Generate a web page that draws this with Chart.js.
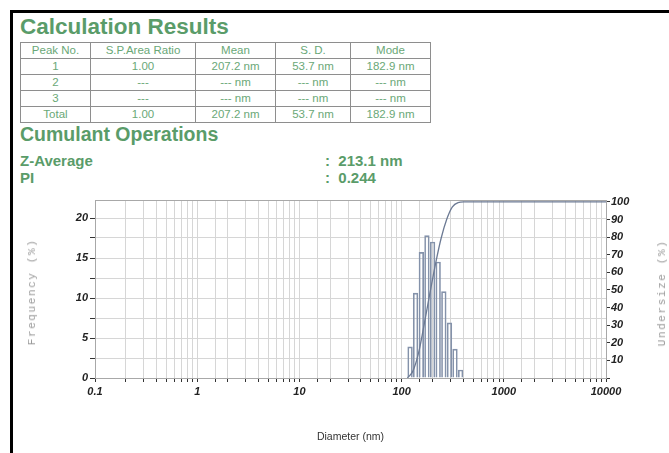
<!DOCTYPE html>
<html>
<head>
<meta charset="utf-8">
<script src="https://cdn.jsdelivr.net/npm/chart.js@4.4.1/dist/chart.umd.min.js"></script>
<style>
    body { margin: 0; width: 669px; height: 453px; overflow: hidden; position: relative; background: #fff;
           font-family: 'Liberation Sans', Arial, sans-serif; }
    .frame-top { position: absolute; left: 10px; top: 10px; right: 0; height: 3px; background: #000; }
    .frame-left { position: absolute; left: 10px; top: 10px; bottom: 0; width: 3px; background: #000; }
    .green { color: #5a9c69; font-weight: bold; position: absolute; left: 20px; line-height: 1; white-space: nowrap; }
    #title { top: 16px; font-size: 22.5px; }
    #cumulant { top: 125px; font-size: 19.5px; }
    .stat { font-size: 15px; }
    .stat span { position: absolute; left: 305px; }
    table { position: absolute; left: 20px; top: 42px; border-collapse: collapse; color: #6aa877;
            font-size: 11.5px; table-layout: fixed; }
    td { border: 1px solid #8e8e8e; text-align: center; padding: 0; height: 15px; line-height: 13px; }
    .axis-title { position: absolute; color: #9a9a9a; font-family: 'Liberation Mono', monospace; font-size: 11px;
                  letter-spacing: 1.6px; white-space: nowrap; transform: translate(-50%, -50%) rotate(-90deg); }
    #chart-box { position: absolute; left: 0; top: 190px; width: 669px; height: 263px; }
</style>
</head>
<body>
<div class="frame-top"></div>
<div class="frame-left"></div>
<div id="title" class="green">Calculation Results</div>
<table>
    <colgroup><col style="width:70px"><col style="width:105px"><col style="width:80px"><col style="width:75px"><col style="width:80px"></colgroup>
    <tr><td>Peak No.</td><td>S.P.Area Ratio</td><td>Mean</td><td>S. D.</td><td>Mode</td></tr>
    <tr><td>1</td><td>1.00</td><td>207.2 nm</td><td>53.7 nm</td><td>182.9 nm</td></tr>
    <tr><td>2</td><td>---</td><td>--- nm</td><td>--- nm</td><td>--- nm</td></tr>
    <tr><td>3</td><td>---</td><td>--- nm</td><td>--- nm</td><td>--- nm</td></tr>
    <tr><td>Total</td><td>1.00</td><td>207.2 nm</td><td>53.7 nm</td><td>182.9 nm</td></tr>
</table>
<div id="cumulant" class="green">Cumulant Operations</div>
<div class="green stat" style="top:153px">Z-Average<span>:&nbsp; 213.1 nm</span></div>
<div class="green stat" style="top:170px">PI<span>:&nbsp; 0.244</span></div>

<div id="chart-box"><canvas id="psdChart"></canvas></div>
<div class="axis-title" style="left:32px; top:292px">Frequency (%)</div>
<div class="axis-title" style="left:662px; top:293px">Undersize (%)</div>

<script>
// histogram bins (nm) and frequency (%)
const binCenters = [121, 137, 156, 177, 201, 228, 259, 294, 333, 378];
const frequency = [3.9, 10.6, 15.7, 17.8, 17.0, 14.5, 10.8, 6.9, 3.6, 1.0];

// cumulative undersize curve
const undersizeDiam = [114, 129, 147, 166, 189, 215, 244, 277, 314, 357, 405, 10000];
const undersize = [0, 3.9, 14.5, 30.2, 48, 65, 79.5, 90.3, 97.2, 99.6, 100, 100];

// axis ticks
const diameterLabels = ['0.1', '1', '10', '100', '1000', '10000'];
const freqTicks = [0, 2.5, 5, 7.5, 10, 12.5, 15, 17.5, 20];
const freqLabels = ['0', '5', '10', '15', '20'];
const undersizeTicks = [0, 5, 10, 15, 20, 25, 30, 35, 40, 45, 50, 55, 60, 65, 70, 75, 80, 85, 90, 95, 100];
const undersizeLabels = ['10', '20', '30', '40', '50', '60', '70', '80', '90', '100'];

const tickFont = { family: 'Liberation Sans', size: 11, style: 'italic', weight: 'bold' };
const gridColor = '#d6d6d6';
const axisColor = '#a8a8a8';

new Chart(document.getElementById('psdChart'), {
    type: 'bar',
    data: {
        datasets: [{
            label: 'Frequency',
            data: binCenters.map((d, i) => ({ x: d, y: frequency[i] })),
            backgroundColor: 'rgba(255,255,255,0)',
            borderColor: '#8492aa',
            borderWidth: 1,
            barPercentage: 1,
            categoryPercentage: 1,
            yAxisID: 'y',
            order: 2
        }, {
            type: 'line',
            label: 'Undersize',
            data: undersizeDiam.map((d, i) => ({ x: d, y: undersize[i] })),
            borderColor: '#6c7a94',
            borderWidth: 1.3,
            pointRadius: 0,
            cubicInterpolationMode: 'monotone',
            yAxisID: 'y1',
            order: 1
        }]
    },
    options: {
        responsive: true,
        maintainAspectRatio: false,
        animation: false,
        layout: { padding: { top: 10, left: 0, right: 0, bottom: 0 } },
        plugins: { legend: { display: false }, tooltip: { enabled: false } },
        scales: {
            x: {
                type: 'logarithmic',
                min: 0.1,
                max: 10000,
                offset: false,
                grid: { offset: false, color: gridColor, tickColor: '#333', tickLength: 4 },
                border: { color: axisColor },
                ticks: {
                    autoSkip: false,
                    maxRotation: 0,
                    padding: 3,
                    color: '#222',
                    font: tickFont,
                    callback: function(value) {
                        const e = Math.log10(value);
                        if (Math.abs(e - Math.round(e)) > 1e-6) return '';
                        return diameterLabels[Math.round(e) + 1];
                    }
                },
                title: {
                    display: true,
                    text: 'Diameter (nm)',
                    color: '#333',
                    font: { family: 'Liberation Sans', size: 10.5 },
                    padding: { top: 0, bottom: 10 }
                },
                afterFit: function(scale) { scale.height = 75; }
            },
            xTop: {
                type: 'logarithmic',
                position: 'top',
                min: 0.1,
                max: 10000,
                grid: { display: false },
                ticks: { display: false },
                border: { color: axisColor },
                afterFit: function(scale) { scale.height = 0; }
            },
            y: {
                type: 'linear',
                position: 'left',
                min: 0,
                max: 22.25,
                afterBuildTicks: function(scale) { scale.ticks = freqTicks.map(v => ({ value: v })); },
                grid: { color: gridColor, tickColor: '#333', tickLength: 5 },
                border: { color: axisColor },
                ticks: {
                    padding: 2,
                    color: '#222',
                    font: tickFont,
                    callback: v => freqLabels.includes(String(v)) ? String(v) : ''
                },
                afterFit: function(scale) { scale.width = 95; }
            },
            y1: {
                type: 'linear',
                position: 'right',
                min: 0,
                max: 101.1,
                afterBuildTicks: function(scale) { scale.ticks = undersizeTicks.map(v => ({ value: v })); },
                grid: { drawOnChartArea: false, tickColor: '#333', tickLength: 4 },
                border: { color: axisColor },
                ticks: {
                    padding: 1,
                    color: '#222',
                    font: tickFont,
                    callback: v => undersizeLabels.includes(String(v)) ? String(v) : ''
                },
                afterFit: function(scale) { scale.width = 63; }
            }
        }
    }
});
</script>
</body>
</html>
